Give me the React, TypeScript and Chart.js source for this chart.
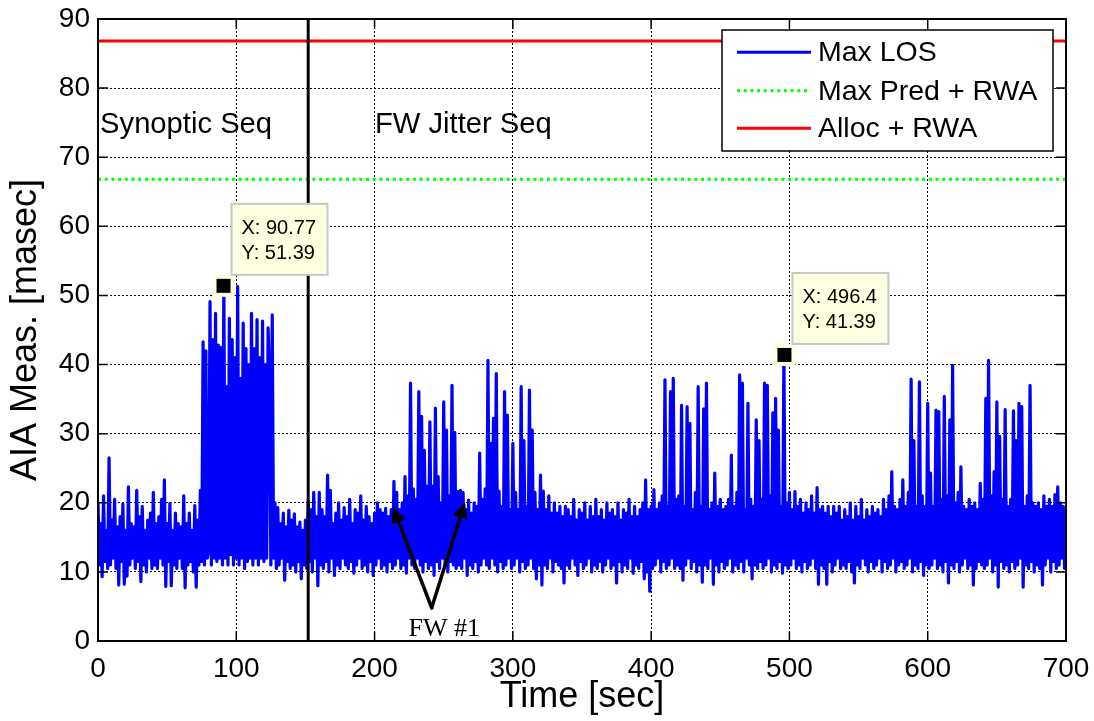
import React, { useEffect, useRef } from "react";
import { Chart, registerables } from "chart.js";

Chart.register(...registerables);

// ---------------- data ----------------
const timeStepSec = 1;

// Max LOS [masec], one sample per second, t = 0 .. 700 s
const maxLosValues: number[] = [
  20, 11, 17, 9.3, 21, 11.5, 16, 10.5, 26.5, 11, 17.5, 12, 20.5, 10.5, 16.5, 8.1, 18, 11.5, 19.8, 8.2,
  16, 9.4, 22.3, 11, 17, 12, 16.5, 10.5, 21.8, 11.5, 18, 8.6, 19.5, 11, 16, 10, 17.5, 12, 18.5, 10.5,
  21.5, 11, 17, 10.5, 18, 12, 20.5, 11, 23.3, 7.9, 17, 11.5, 19.9, 8, 16, 11, 18.5, 10.5, 17, 12,
  16.5, 10.5, 21, 7.7, 17, 11, 18.5, 11.5, 16, 10, 19.6, 7.8, 17.5, 11, 21.8, 11.5, 43.3, 11, 42, 12,
  13, 49.1, 11, 43.6, 12, 47.4, 11.5, 42.8, 12, 42.5, 11, 51.39, 12, 36.8, 11, 46.7, 12.5, 43.6, 11, 41,
  12, 51.3, 11, 38, 12, 46, 10.5, 42.3, 11.5, 40, 12, 47.4, 11, 42.3, 12, 46.5, 11, 41, 12, 46.3,
  11.5, 40, 12, 45.3, 38.5, 11, 47.2, 12, 20, 10.5, 19.3, 11, 17, 12, 18.5, 8.8, 16.5, 11.5, 18.9, 10.5,
  17.5, 11, 18.4, 10, 16.5, 11.5, 17.2, 9, 16, 11, 17.5, 10.5, 20.2, 11.5, 19, 10, 21.5, 12, 18, 8,
  21.5, 11, 19, 10.5, 18, 11.5, 24, 10, 21.8, 12, 17, 9.5, 18.5, 11, 20, 10.5, 17.5, 12, 19.3, 11,
  18, 10.5, 20.5, 11.5, 17, 9.8, 19, 11, 18.5, 12, 21, 10.5, 17.5, 11, 19.5, 10, 18, 11.5, 17, 9.5,
  18.5, 11, 20, 12, 19, 10.5, 18.5, 11, 19.2, 10, 18, 11.5, 19, 10.5, 23.1, 11, 21.5, 12, 19, 10.5,
  20, 11, 23.8, 9.8, 21, 12, 37.3, 11, 22, 10.5, 20.5, 12, 36.1, 11, 32.5, 10, 27.6, 11.5, 22.4, 10.5,
  31.7, 11, 22.4, 9.5, 33.7, 11.5, 23.8, 10.5, 20, 12, 34.6, 11, 30.5, 10, 21, 11.5, 37, 11, 30.2, 10.5,
  21.6, 11, 21.8, 10.5, 21.5, 12, 19, 9.5, 20.4, 11, 18.5, 10.5, 20, 11.5, 19.5, 10, 27.2, 11, 20.5, 12,
  22, 11, 40.6, 10.5, 28.6, 12, 32.2, 11, 38.7, 10, 21.7, 11.5, 19.5, 10.5, 36.1, 11, 32.7, 12, 19, 10.5,
  28.6, 11, 21.5, 12, 19, 10, 36.8, 11.5, 29, 10.5, 19.5, 11, 36.3, 12, 30.5, 10.5, 21.5, 9, 19, 11,
  24, 8.1, 21.7, 11, 19, 10.5, 21, 12, 18.5, 10, 20, 11.5, 18.5, 11, 19.5, 10.5, 18, 8.4, 19.5, 11,
  19, 10.5, 18, 12, 20.5, 11, 17.5, 9.5, 19, 11.5, 18.5, 10.5, 20, 11, 17.5, 12, 19.5, 10, 18, 11,
  20.5, 10.5, 18, 11.5, 19, 10, 17.5, 11, 20, 12, 18.5, 10.5, 19, 11, 18, 8.4, 20, 11.5, 17.5, 10,
  19, 11, 18.5, 10.5, 20.5, 12, 18, 9.8, 19.5, 11, 18, 10.5, 19, 11.5, 20, 9, 23.3, 10, 19, 7.2,
  19.5, 10.5, 21.9, 11, 19, 12, 20, 10, 21, 11.5, 37.8, 10.5, 19.5, 11, 36.1, 12, 38, 10.5, 20.5, 11,
  21, 10.5, 34.1, 8.8, 19.5, 11, 33.9, 12, 31.5, 10.5, 19, 11.5, 21.5, 10, 36.8, 11, 19.5, 8.5, 33.6, 11,
  37.3, 10.5, 19, 12, 20, 8.2, 24.3, 11, 19.5, 10, 20.5, 11.5, 19, 10.5, 19.5, 11, 20.5, 12, 26.9, 10,
  19.5, 11, 21.5, 10.5, 38.5, 11.5, 37.3, 10, 19, 12, 34.4, 11, 20.5, 9, 19.5, 11, 32, 10.5, 29, 11.5,
  20.5, 10.5, 37.3, 11, 37, 12, 21, 10, 33, 11, 35.1, 10.5, 30.5, 11.5, 19.5, 9.8, 41.39, 11, 20, 10.5,
  21.5, 11, 19, 12, 21.6, 10.5, 19.5, 11, 20.5, 10, 18.5, 11.5, 20, 10.5, 19, 11, 21, 12, 18.5, 10.5,
  22.2, 8.2, 19, 11, 19.5, 10.5, 18.5, 8.2, 19.5, 11.5, 18, 10, 19.5, 11, 18.5, 12, 19.5, 10.5, 17.5, 11,
  19, 10.5, 18, 11.5, 20, 10, 17.5, 8.4, 19.5, 11, 18, 10.5, 20.5, 12, 17.5, 11, 19, 10, 18, 11.5,
  19.5, 10.5, 18.5, 11, 19, 12, 18, 10, 20.5, 11.5, 19, 10.5, 21, 11, 24.5, 12, 19.5, 10, 19, 11,
  20.5, 11.5, 23.3, 10.5, 19.5, 11, 21.5, 12, 37.9, 10, 29, 11, 19.5, 10.5, 37.5, 11.5, 21, 9.5, 19.5, 11,
  34.4, 10.5, 24.3, 11, 19.5, 12, 33.4, 10.5, 33.2, 11, 20.5, 10, 35.4, 11.5, 21, 8.4, 32, 11, 39.9, 10.5,
  20, 11.5, 21.5, 10, 25.2, 11, 19.5, 12, 19, 10.5, 20.5, 11, 19.5, 8.1, 20, 10.5, 19, 11.5, 22.8, 11,
  20.5, 10.5, 35.1, 11, 40.6, 12, 21, 10, 24.5, 11, 34.6, 7.8, 29.6, 11.5, 20.5, 10.5, 33.5, 11, 19.5, 10,
  20.5, 11.5, 33.3, 10.5, 29, 11, 34.4, 12, 33.9, 7.8, 19.5, 11, 21, 10.5, 37, 11.5, 20, 10, 19.5, 11,
  20, 10.5, 19, 8.1, 21, 11, 19.5, 12, 20.5, 10, 19.5, 11.5, 21.2, 10.5, 22.3, 11, 20, 12, 19.5, 10.5,
  18,
];

const maxPredRwa = 66.8; // masec
const allocRwa = 86.8; // masec

const xTickValues = [0, 100, 200, 300, 400, 500, 600, 700];
const yTickValues = [0, 10, 20, 30, 40, 50, 60, 70, 80, 90];

const seriesLabels = ["Max LOS", "Max Pred + RWA", "Alloc + RWA"];
const sequenceBoundaryTime = 152;
const sequenceNames = ["Synoptic Seq", "FW Jitter Seq"];
const sequenceNameTimes = [1.5, 200.3];
const sequenceNameLevel = 73.5;

const dataTipX = [90.77, 496.4];
const dataTipY = [51.39, 41.39];
const dataTipXText = ["X: 90.77", "X: 496.4"];
const dataTipYText = ["Y: 51.39", "Y: 41.39"];

const fwLabel = "FW #1";
const fwArrowTails = { t: 241.3, v: 4.8 };
const fwArrowTipTimes = [213.3, 265.4];
const fwArrowTipLevels = [19.4, 20.1];
const fwLabelPos = { t: 250.4, v: 0.72 };

// ---------------- styles ----------------
const SANS = "'Liberation Sans', Arial, Helvetica, sans-serif";
const SERIF = "'Liberation Serif', 'Times New Roman', serif";
const BLUE = "#0000ff";
const GREEN = "#00ff00";
const RED = "#ff0000";

function arrow(ctx: CanvasRenderingContext2D, x0: number, y0: number, x1: number, y1: number) {
  const ang = Math.atan2(y1 - y0, x1 - x0);
  const headLen = 16;
  const headHalf = 7.5;
  const bx = x1 - headLen * Math.cos(ang);
  const by = y1 - headLen * Math.sin(ang);
  ctx.beginPath();
  ctx.moveTo(x0, y0);
  ctx.lineTo(bx, by);
  ctx.stroke();
  ctx.beginPath();
  ctx.moveTo(x1, y1);
  ctx.lineTo(bx + headHalf * Math.sin(ang), by - headHalf * Math.cos(ang));
  ctx.lineTo(bx - headHalf * Math.sin(ang), by + headHalf * Math.cos(ang));
  ctx.closePath();
  ctx.fill();
}

const overlayPlugin = {
  id: "overlay",
  afterDatasetsDraw(chart: any) {
    const { ctx, chartArea: a } = chart;
    const xs = chart.scales.x;
    const ys = chart.scales.y;
    const px = (v: number) => xs.getPixelForValue(v);
    const py = (v: number) => ys.getPixelForValue(v);
    ctx.save();

    // sequence boundary
    ctx.strokeStyle = "#000";
    ctx.lineWidth = 3;
    ctx.beginPath();
    ctx.moveTo(px(sequenceBoundaryTime), a.top);
    ctx.lineTo(px(sequenceBoundaryTime), a.bottom);
    ctx.stroke();

    // sequence names
    ctx.fillStyle = "#000";
    ctx.font = `29.2px ${SANS}`;
    ctx.textAlign = "left";
    ctx.textBaseline = "alphabetic";
    sequenceNames.forEach((s, i) => {
      ctx.fillText(s, px(sequenceNameTimes[i]), py(sequenceNameLevel));
    });

    // FW #1 arrows
    ctx.strokeStyle = "#000";
    ctx.fillStyle = "#000";
    ctx.lineWidth = 3.5;
    ctx.lineCap = "round";
    fwArrowTipTimes.forEach((t, i) => {
      arrow(ctx, px(fwArrowTails.t), py(fwArrowTails.v), px(t), py(fwArrowTipLevels[i]));
    });
    ctx.font = `26px ${SERIF}`;
    ctx.textAlign = "center";
    ctx.fillText(fwLabel, px(fwLabelPos.t), py(fwLabelPos.v));

    // data tips
    dataTipX.forEach((tx, i) => {
      const mx = px(tx);
      const my = py(dataTipY[i]);
      ctx.fillStyle = "#ffffe0";
      ctx.fillRect(mx - 11, my - 11, 22, 22);
      ctx.fillStyle = "#000";
      ctx.fillRect(mx - 7, my - 7, 14, 14);
      const bx = mx + 8;
      const by = my - 82;
      ctx.fillStyle = "#ffffe1";
      ctx.fillRect(bx, by, 96, 71);
      ctx.strokeStyle = "#c8c8c8";
      ctx.lineWidth = 2;
      ctx.strokeRect(bx, by, 96, 71);
      ctx.fillStyle = "#000";
      ctx.font = `20px ${SANS}`;
      ctx.textAlign = "left";
      ctx.textBaseline = "middle";
      ctx.fillText(dataTipXText[i], bx + 10, by + 24.5);
      ctx.fillText(dataTipYText[i], bx + 10, by + 50);
    });

    // legend
    const lx = a.right - 344;
    const ly = a.top + 11;
    const lw = 331;
    const lh = 121;
    ctx.fillStyle = "#fff";
    ctx.fillRect(lx, ly, lw, lh);
    ctx.strokeStyle = "#000";
    ctx.lineWidth = 1.5;
    ctx.strokeRect(lx, ly, lw, lh);
    const rows = [22.3, 60.7, 98.3];
    chart.data.datasets.forEach((ds: any, i: number) => {
      const yy = ly + rows[i];
      ctx.strokeStyle = ds.borderColor;
      ctx.lineWidth = 3;
      ctx.lineCap = "butt";
      ctx.setLineDash(ds.borderDash || []);
      ctx.beginPath();
      ctx.moveTo(lx + 15, yy);
      ctx.lineTo(lx + 89, yy);
      ctx.stroke();
      ctx.setLineDash([]);
      ctx.fillStyle = "#000";
      ctx.font = `28.5px ${SANS}`;
      ctx.textAlign = "left";
      ctx.textBaseline = "middle";
      ctx.fillText(ds.label, lx + 96, yy + 1);
    });

    // frame + inner tick marks
    ctx.strokeStyle = "#000";
    ctx.lineWidth = 2;
    ctx.lineCap = "butt";
    ctx.strokeRect(a.left, a.top, a.right - a.left, a.bottom - a.top);
    ctx.lineWidth = 1.5;
    ctx.beginPath();
    xTickValues.forEach((v) => {
      const x = px(v);
      ctx.moveTo(x, a.bottom);
      ctx.lineTo(x, a.bottom - 10);
      ctx.moveTo(x, a.top);
      ctx.lineTo(x, a.top + 10);
    });
    yTickValues.forEach((v) => {
      const y = py(v);
      ctx.moveTo(a.left, y);
      ctx.lineTo(a.left + 10, y);
      ctx.moveTo(a.right, y);
      ctx.lineTo(a.right - 10, y);
    });
    ctx.stroke();
    ctx.restore();
  },
};

function zeroScalePadding(scale: any) {
  scale.paddingTop = 0;
  scale.paddingBottom = 0;
  scale.paddingLeft = 0;
  scale.paddingRight = 0;
}

export default function App() {
  const canvasRef = useRef<HTMLCanvasElement | null>(null);

  useEffect(() => {
    const canvas = canvasRef.current;
    if (!canvas) return;
    const losPoints = maxLosValues.map((v, i) => ({ x: i * timeStepSec, y: v }));
    const tEnd = xTickValues[xTickValues.length - 1];
    const chart = new Chart(canvas, {
      type: "line",
      data: {
        datasets: [
          {
            label: seriesLabels[0],
            data: losPoints,
            borderColor: BLUE,
            backgroundColor: BLUE,
            borderWidth: 3.2,
            pointRadius: 0,
            borderJoinStyle: "round",
            tension: 0,
          },
          {
            label: seriesLabels[1],
            data: [
              { x: 0, y: maxPredRwa },
              { x: tEnd, y: maxPredRwa },
            ],
            borderColor: GREEN,
            backgroundColor: GREEN,
            borderWidth: 3,
            borderDash: [3, 3.7],
            pointRadius: 0,
          },
          {
            label: seriesLabels[2],
            data: [
              { x: 0, y: allocRwa },
              { x: tEnd, y: allocRwa },
            ],
            borderColor: RED,
            backgroundColor: RED,
            borderWidth: 3,
            pointRadius: 0,
          },
        ],
      },
      options: {
        animation: false,
        responsive: false,
        maintainAspectRatio: false,
        devicePixelRatio: 1,
        events: [],
        layout: { padding: { top: 19, right: 28, left: 0, bottom: 0 } },
        plugins: {
          legend: { display: false },
          tooltip: { enabled: false },
        },
        scales: {
          x: {
            type: "linear",
            min: 0,
            max: tEnd,
            afterBuildTicks: (scale: any) => {
              scale.ticks = xTickValues.map((v) => ({ value: v }));
            },
            afterFit: (scale: any) => {
              scale.height = 80;
              zeroScalePadding(scale);
            },
            grid: { color: "#000", lineWidth: 1, drawTicks: false },
            border: { display: false, dash: [2, 2] },
            ticks: {
              color: "#000",
              font: { family: SANS, size: 28 },
              padding: 11,
              maxRotation: 0,
            },
            title: {
              display: true,
              text: "Time [sec]",
              color: "#000",
              font: { family: SANS, size: 36 },
              padding: { top: 0, bottom: 2.5 },
            },
          },
          y: {
            type: "linear",
            min: 0,
            max: 90,
            afterBuildTicks: (scale: any) => {
              scale.ticks = yTickValues.map((v) => ({ value: v }));
            },
            afterFit: (scale: any) => {
              scale.width = 98;
              zeroScalePadding(scale);
            },
            grid: { color: "#000", lineWidth: 1, drawTicks: false },
            border: { display: false, dash: [2, 2] },
            ticks: {
              color: "#000",
              font: { family: SANS, size: 28 },
              padding: 8,
            },
            title: {
              display: true,
              text: "AIA Meas. [masec]",
              color: "#000",
              font: { family: SANS, size: 36 },
              padding: { top: 4.5, bottom: 0 },
            },
          },
        },
      },
      plugins: [overlayPlugin],
    } as any);
    return () => chart.destroy();
  }, []);

  return (
    <div style={{ position: "absolute", left: 0, top: 0, width: 1094, height: 721, background: "#fff" }}>
      <canvas ref={canvasRef} width={1094} height={721} style={{ display: "block", width: 1094, height: 721 }} />
    </div>
  );
}
